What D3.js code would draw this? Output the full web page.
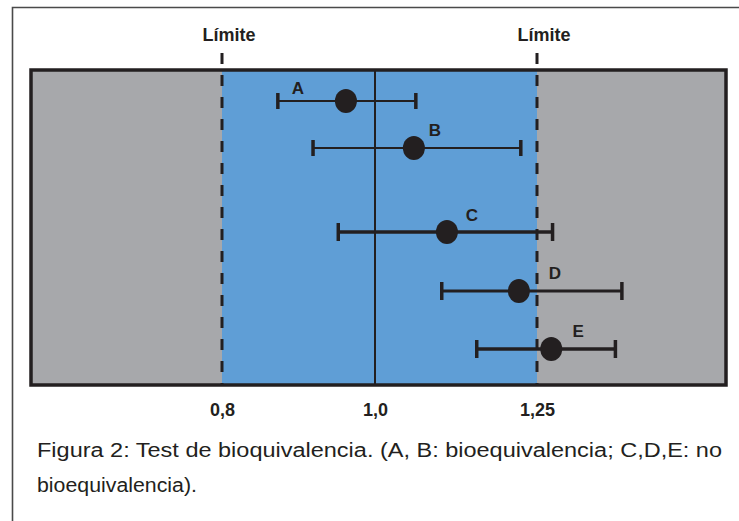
<!DOCTYPE html>
<html>
<head>
<meta charset="utf-8">
<script src="https://cdn.jsdelivr.net/npm/d3@7"></script>
<style>
  body { margin: 0; background: #fff; }
  svg { display: block; font-family: "Liberation Sans", Arial, sans-serif; }
</style>
</head>
<body>
<svg id="chart"></svg>
<script>
// data (ratio of means with confidence interval)
const products = ['A', 'B', 'C', 'D', 'E'];
const pointEst = [0.962, 1.060, 1.111, 1.222, 1.272];
const ciLow = [0.873, 0.919, 0.952, 1.103, 1.157];
const ciHigh = [1.063, 1.225, 1.274, 1.381, 1.371];
const limits = [0.8, 1.25];
const tickValues = [0.8, 1.0, 1.25];
const tickLabels = ['0,8', '1,0', '1,25'];
const limitLabel = 'Límite';
const captionLines = [
  'Figura 2: Test de bioquivalencia. (A,  B: bioequivalencia; C,D,E: no',
  'bioequivalencia).'
];

let width = 739;
let height = 521;
let plot = {left: 31, right: 726, top: 70, bottom: 385};

let data = products.map((p, i) => ({
  name: p, est: pointEst[i], lo: ciLow[i], hi: ciHigh[i]
}));

let svg = d3.select('#chart')
            .attr('width', width)
            .attr('height', height);

// piecewise scale, the figure is not drawn to a strict linear axis
let xScale = d3.scaleLinear()
                .domain([0.8, 1.0, 1.25])
                .range([222, 375, 537]);

let yScale = d3.scaleOrdinal()
                .domain(products)
                .range([101, 148, 232, 291, 349]);

let barWidth = d3.scaleOrdinal().domain(products).range([2, 2, 3.5, 3, 3.5]);
let capHalf = d3.scaleOrdinal().domain(products).range([8, 8, 9, 9, 9]);
let labelDx = d3.scaleOrdinal().domain(products).range([-48, 21, 25, 36, 27]);
let labelDy = d3.scaleOrdinal().domain(products).range([-7, -12, -11, -12, -12]);

// outer frame of the figure
svg.append('path')
    .attr('d', `M12.5,${height} V7.5 H${width}`)
    .attr('fill', 'none')
    .attr('stroke', '#4a4a4a')
    .attr('stroke-width', 1.6);

// grey background and blue acceptance band
svg.append('rect')
    .attr('x', plot.left)
    .attr('y', plot.top)
    .attr('width', plot.right - plot.left)
    .attr('height', plot.bottom - plot.top)
    .attr('fill', '#a7a8ab');

svg.append('rect')
    .attr('x', xScale(limits[0]))
    .attr('y', plot.top)
    .attr('width', xScale(limits[1]) - xScale(limits[0]))
    .attr('height', plot.bottom - plot.top)
    .attr('fill', '#5f9ed6');

// reference line at 1.0
svg.append('line')
    .attr('x1', xScale(1))
    .attr('x2', xScale(1))
    .attr('y1', plot.top)
    .attr('y2', plot.bottom)
    .attr('stroke', '#231f20')
    .attr('stroke-width', 2);

svg.append('rect')
    .attr('x', plot.left)
    .attr('y', plot.top)
    .attr('width', plot.right - plot.left)
    .attr('height', plot.bottom - plot.top)
    .attr('fill', 'none')
    .attr('stroke', '#231f20')
    .attr('stroke-width', 3.5);

// dashed limit lines
svg.selectAll('.limit')
    .data(limits)
    .enter()
    .append('line')
    .classed('limit', true)
    .attr('x1', d => xScale(d))
    .attr('x2', d => xScale(d))
    .attr('y1', 53)
    .attr('y2', plot.bottom)
    .attr('stroke', '#231f20')
    .attr('stroke-width', 3)
    .attr('stroke-dasharray', '11,11');

svg.selectAll('.limit-label')
    .data(limits)
    .enter()
    .append('text')
    .classed('limit-label', true)
    .attr('x', d => xScale(d) + 7)
    .attr('y', 41)
    .style('font-size', '18px')
    .style('font-weight', 'bold')
    .style('text-anchor', 'middle')
    .attr('fill', '#231f20')
    .text(limitLabel);

// x axis labels
let xAxis = d3.axisBottom(xScale)
              .tickValues(tickValues)
              .tickFormat((d, i) => tickLabels[i])
              .tickSize(0)
              .tickPadding(18);

let axisG = svg.append('g')
    .attr('transform', `translate(0,${plot.bottom})`)
    .call(xAxis);
axisG.select('.domain').remove();
axisG.selectAll('text')
    .style('font-family', '"Liberation Sans", Arial, sans-serif')
    .style('font-size', '18px')
    .style('font-weight', 'bold')
    .attr('fill', '#231f20');

// confidence intervals
let rows = svg.selectAll('.row')
    .data(data)
    .enter()
    .append('g')
    .classed('row', true);

rows.append('line')
    .attr('x1', d => xScale(d.lo))
    .attr('x2', d => xScale(d.hi))
    .attr('y1', d => yScale(d.name))
    .attr('y2', d => yScale(d.name))
    .attr('stroke', '#231f20')
    .attr('stroke-width', d => barWidth(d.name));

rows.selectAll('.cap')
    .data(d => [d.lo, d.hi].map(v => ({v: v, name: d.name})))
    .enter()
    .append('line')
    .classed('cap', true)
    .attr('x1', d => xScale(d.v))
    .attr('x2', d => xScale(d.v))
    .attr('y1', d => yScale(d.name) - capHalf(d.name))
    .attr('y2', d => yScale(d.name) + capHalf(d.name))
    .attr('stroke', '#231f20')
    .attr('stroke-width', 3.5);

rows.append('ellipse')
    .attr('cx', d => xScale(d.est))
    .attr('cy', d => yScale(d.name))
    .attr('rx', 11)
    .attr('ry', 12)
    .attr('fill', '#231f20');

rows.append('text')
    .attr('x', d => xScale(d.est) + labelDx(d.name))
    .attr('y', d => yScale(d.name) + labelDy(d.name))
    .style('font-size', '17px')
    .style('font-weight', 'bold')
    .style('text-anchor', 'middle')
    .attr('fill', '#231f20')
    .text(d => d.name);

// caption
svg.selectAll('.caption')
    .data(captionLines)
    .enter()
    .append('text')
    .classed('caption', true)
    .attr('x', 37)
    .attr('y', (d, i) => 457 + i * 35)
    .attr('textLength', (d, i) => i === 0 ? 685 : 160)
    .attr('lengthAdjust', 'spacingAndGlyphs')
    .style('font-size', '20px')
    .attr('fill', '#231f20')
    .text(d => d);
</script>
</body>
</html>
